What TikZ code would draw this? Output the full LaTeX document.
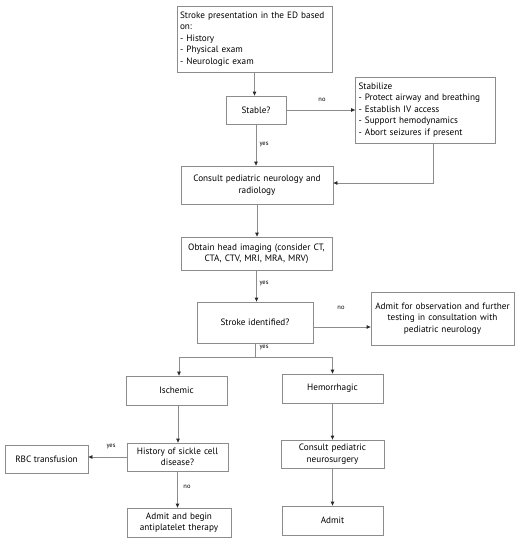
\documentclass[tikz,border=0pt]{standalone}
\usepackage{fontspec}
\setmainfont{PT Sans}
\usetikzlibrary{arrows.meta,calc}
\definecolor{linegray}{RGB}{140,140,140}
\definecolor{tipgray}{RGB}{40,40,40}
\tikzset{
  box/.style={draw=linegray, line width=0.7pt, rectangle, inner sep=3pt, align=center, font=\fontsize{9.2}{11.5}\selectfont},
  lbox/.style={box, align=left},
  arr/.style={draw=linegray, line width=0.7pt, -{Triangle[length=4pt,width=3.4pt,color=tipgray]}},
  lnk/.style={draw=linegray, line width=0.7pt},
  lab/.style={font=\fontsize{6.5}{7.5}\selectfont, inner sep=0pt}
}
\begin{document}
\begin{tikzpicture}[x=1pt,y=-1pt]
\useasboundingbox (0,0) rectangle (521,543);
% boxes
\node[lbox, minimum width=155pt, minimum height=66pt, text width=149pt] (b1) at (254.5,39)
  {Stroke presentation in the ED based\\on:\\- History\\- Physical exam\\- Neurologic exam};
\node[box, minimum width=60pt, minimum height=28pt] (stable) at (256,110) {Stable?};
\node[lbox, minimum width=139pt, minimum height=66pt, text width=134pt] (stab) at (425.5,110)
  {Stabilize\\- Protect airway and breathing\\- Establish IV access\\- Support hemodynamics\\- Abort seizures if present};
\node[box, minimum width=152pt, minimum height=38pt, text width=146pt] (consult) at (257,185)
  {Consult pediatric neurology and\\radiology};
\node[box, minimum width=151pt, minimum height=33pt, text width=145pt] (img) at (256.5,253.5)
  {Obtain head imaging (consider CT,\\CTA, CTV, MRI, MRA, MRV)};
\node[box, minimum width=116pt, minimum height=41pt] (sid) at (255,322.5) {Stroke identified?};
\node[box, minimum width=141pt, minimum height=53pt, text width=137pt] (obs) at (442.5,318.5)
  {Admit for observation and further\\testing in consultation with\\pediatric neurology};
\node[box, minimum width=101pt, minimum height=29pt] (isch) at (176.5,390.5) {Ischemic};
\node[box, minimum width=101pt, minimum height=29pt] (hem) at (332.5,388.5) {Hemorrhagic};
\node[box, minimum width=99pt, minimum height=28pt, text width=95pt] (sickle) at (177.5,457)
  {History of sickle cell\\disease?};
\node[box, minimum width=83pt, minimum height=28pt] (rbc) at (46.5,459) {RBC transfusion};
\node[box, minimum width=102pt, minimum height=29pt, text width=98pt] (antip) at (179,522.5)
  {Admit and begin\\antiplatelet therapy};
\node[box, minimum width=101pt, minimum height=28pt, text width=97pt] (neurosurg) at (332.5,454)
  {Consult pediatric\\neurosurgery};
\node[box, minimum width=101pt, minimum height=29pt] (admit) at (332.5,520.5) {Admit};
% connectors
\draw[arr] (b1.south) -- (b1.south |- stable.north);
\draw[arr] (stable.east) -- (stable.east -| stab.west);
\draw[arr] (stable.south) -- (stable.south |- consult.north);
\draw[arr] ([xshift=7.5pt]stab.south) |- ([yshift=2pt]consult.east);
\draw[arr] (consult.south) -- (consult.south |- img.north);
\draw[arr] (img.south) -- (img.south |- sid.north);
\draw[arr] ([yshift=-4.5pt]sid.east) -- ([yshift=-4.5pt]sid.east -| obs.west);
\coordinate (split) at ($(sid.south)+(0,14)$);
\draw[lnk] (sid.south) -- (split);
\draw[arr] (split) -| ([xshift=2.5pt]isch.north);
\draw[arr] (split) -| (hem.north);
\draw[arr] ([xshift=1.5pt]isch.south) -- ([xshift=1.5pt]isch.south |- sickle.north);
\draw[arr] (sickle.west) -- (sickle.west -| rbc.east);
\draw[arr] (sickle.south) -- (sickle.south |- antip.north);
\draw[arr] (hem.south) -- (neurosurg.north);
\draw[arr] (neurosurg.south) -- (admit.north);
% labels
\node[lab] (l1) at (322,100) {no};
\node[lab] (l2) at (264,145) {yes};
\node[lab] (l3) at (264,283) {yes};
\node[lab] (l4) at (341,308) {no};
\node[lab] (l5) at (264,347) {yes};
\node[lab] (l6) at (111,446) {yes};
\node[lab] (l7) at (187,487) {no};
\end{tikzpicture}
\end{document}
